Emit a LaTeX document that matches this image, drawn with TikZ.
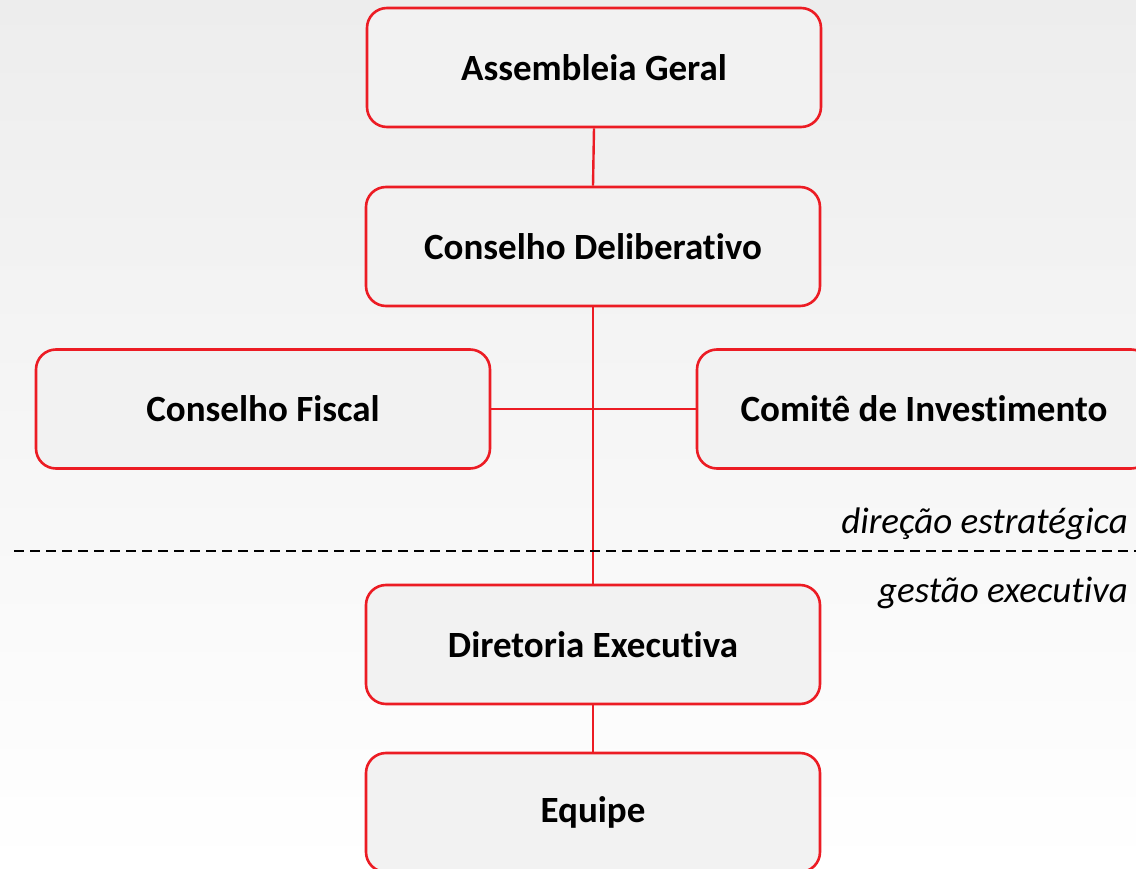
\documentclass[tikz,border=0pt]{standalone}
\usepackage{fontspec}
\setmainfont[Ligatures={NoCommon,TeX}]{Carlito}
\definecolor{boxred}{HTML}{EC1C24}
\definecolor{boxfill}{HTML}{F2F2F2}
\definecolor{bgtop}{HTML}{EDEDED}
\begin{document}
\begin{tikzpicture}[x=1pt,y=-1pt,
  orgbox/.style={draw=boxred, line width=2.6pt, fill=boxfill, rounded corners=20pt,
    minimum width=454pt, minimum height=119pt, inner sep=0pt,
    font=\fontsize{37}{44}\selectfont\bfseries},
  link/.style={draw=boxred, line width=2.4pt},
  tier/.style={anchor=east, inner sep=0pt, font=\fontsize{37}{44}\selectfont\itshape}]
\useasboundingbox (0,0) rectangle (1136,869);
\clip (0,0) rectangle (1136,869);
\shade[top color=bgtop, bottom color=white] (0,0) rectangle (1136,869);
\node[orgbox] (ag) at (594,67.5) {Assembleia Geral};
\node[orgbox] (cd) at (593,246.5) {Conselho Deliberativo};
\node[orgbox] (cf) at (263,409) {Conselho Fiscal};
\node[orgbox] (ci) at (924,409) {Comitê de Investimento};
\node[orgbox] (de) at (593,644.5) {Diretoria Executiva};
\node[orgbox] (eq) at (593,812.5) {Equipe};
\draw[link] (ag.south) -- (cd.north);
\draw[link] (cd.south) -- (de.north);
\draw[link] (cf.east) -- (ci.west);
\draw[link] (de.south) -- (eq.north);
\coordinate (dl) at (14,551);
\coordinate (dr) at (1136,551);
\draw[black, line width=2.2pt, dash pattern=on 10pt off 6pt] (dl) -- (dr);
\node[tier] (t1) at (1128,524) {direção estratégica};
\node[tier] (t2) at (1128,593) {gestão executiva};
\end{tikzpicture}
\end{document}
